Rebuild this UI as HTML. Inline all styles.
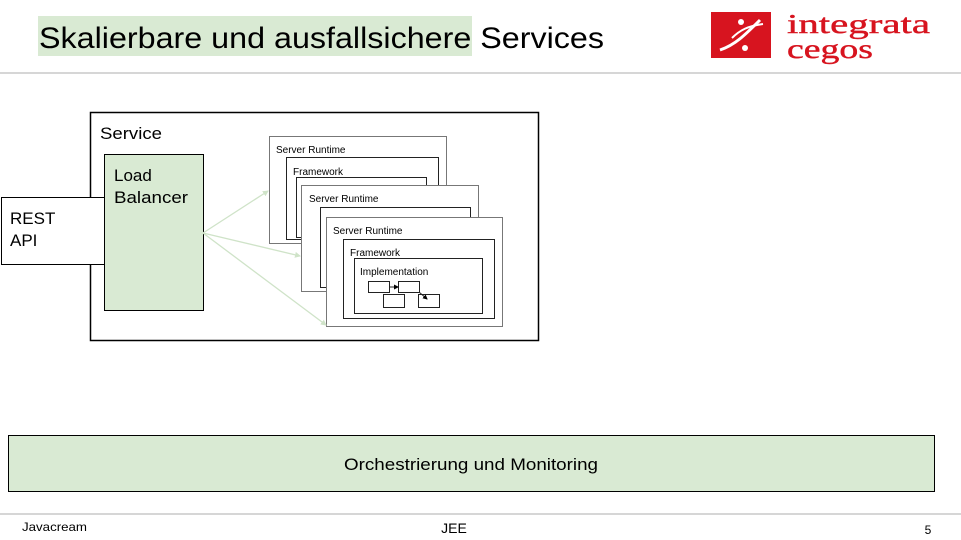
<!DOCTYPE html>
<html><head><meta charset="utf-8"><style>
html,body{margin:0;padding:0;background:#fff;}
svg{display:block;font-family:"Liberation Sans",Arial,sans-serif;}
</style></head><body>
<svg width="961" height="540" viewBox="0 0 961 540" xmlns="http://www.w3.org/2000/svg">
<defs>
<marker id="ag" markerWidth="6" markerHeight="6" refX="5" refY="3" orient="auto" markerUnits="userSpaceOnUse"><path d="M0,0 L6,3 L0,6 z" fill="#cfe3c8"/></marker>
<marker id="ab" markerWidth="5" markerHeight="5" refX="4" refY="2.5" orient="auto" markerUnits="userSpaceOnUse"><path d="M0,0 L5,2.5 L0,5 z" fill="#000"/></marker>
</defs>
<rect x="38" y="16" width="434" height="40" fill="#d9ead3"/>
<text x="39" y="48" font-size="30" fill="#000" textLength="565" lengthAdjust="spacingAndGlyphs">Skalierbare und ausfallsichere Services</text>
<line x1="0" y1="73" x2="961" y2="73" stroke="#c8c8c8" stroke-width="1.5"/>
<rect x="711" y="12" width="60" height="46" fill="#d7141f"/>
<path d="M720 50 C735 45 745 35 760 20" stroke="#fff" stroke-width="3" fill="none"/>
<path d="M732 38 C740 30 748 26 763 24" stroke="#fff" stroke-width="2" fill="none"/>
<circle cx="741" cy="22" r="3" fill="#fff"/><circle cx="745" cy="48" r="3" fill="#fff"/>
<text x="787" y="33" font-family="Liberation Serif,serif" font-size="27" fill="#d7141f" stroke="#d7141f" stroke-width="0.4" textLength="143" lengthAdjust="spacingAndGlyphs">integrata</text>
<text x="787" y="58" font-family="Liberation Serif,serif" font-size="27" fill="#d7141f" stroke="#d7141f" stroke-width="0.4" textLength="86" lengthAdjust="spacingAndGlyphs">cegos</text>
<rect x="90.5" y="112.5" width="448" height="228" fill="#fff" stroke="#000" stroke-width="1.5"/>
<text x="100" y="139" font-size="17" textLength="62" lengthAdjust="spacingAndGlyphs">Service</text>
<rect x="1.5" y="197.5" width="103" height="67" fill="#fff" stroke="#000"/>
<text x="10" y="224" font-size="17">REST</text>
<text x="10" y="246" font-size="17">API</text>
<rect x="104.5" y="154.5" width="99" height="156" fill="#d9ead3" stroke="#000"/>
<text x="114" y="181" font-size="17">Load</text>
<text x="114" y="203" font-size="17" textLength="74" lengthAdjust="spacingAndGlyphs">Balancer</text>
<g stroke="#777" fill="#fff" stroke-width="1">
<rect x="269.5" y="136.5" width="177" height="107"/>
</g>
<g stroke="#222" fill="none" stroke-width="1">
<rect x="286.5" y="157.5" width="152" height="82" fill="#fff"/>
<rect x="296.5" y="177.5" width="130" height="60" fill="none"/>
<rect x="301.5" y="185.5" width="177" height="106" fill="#fff" stroke="#777"/>
<rect x="320.5" y="207.5" width="150" height="80" fill="#fff"/>
<rect x="326.5" y="217.5" width="176" height="109" fill="#fff" stroke="#777"/>
<rect x="343.5" y="239.5" width="151" height="79" fill="#fff"/>
<rect x="354.5" y="258.5" width="128" height="55" fill="#fff"/>
<rect x="368.5" y="281.5" width="21" height="11"/>
<rect x="398.5" y="281.5" width="21" height="11"/>
<rect x="383.5" y="294.5" width="21" height="13"/>
<rect x="418.5" y="294.5" width="21" height="13"/>
<line x1="390" y1="287" x2="398" y2="287" marker-end="url(#ab)"/>
<line x1="419" y1="292" x2="427" y2="299" marker-end="url(#ab)"/>
</g>
<text x="276" y="153" font-size="10">Server Runtime</text>
<text x="293" y="175" font-size="10">Framework</text>
<text x="309" y="202" font-size="10">Server Runtime</text>
<text x="333" y="234" font-size="10">Server Runtime</text>
<text x="350" y="256" font-size="10">Framework</text>
<text x="360" y="275" font-size="10">Implementation</text>
<g stroke="#cfe3c8" stroke-width="1.3" fill="none">
<line x1="203" y1="233" x2="268" y2="191" marker-end="url(#ag)"/>
<line x1="203" y1="233" x2="300" y2="256" marker-end="url(#ag)"/>
<line x1="203" y1="233" x2="326" y2="325" marker-end="url(#ag)"/>
</g>
<rect x="8.5" y="435.5" width="926" height="56" fill="#d9ead3" stroke="#000"/>
<text x="344" y="470" font-size="17" textLength="254" lengthAdjust="spacingAndGlyphs">Orchestrierung und Monitoring</text>
<line x1="0" y1="514" x2="961" y2="514" stroke="#c8c8c8" stroke-width="1.5"/>
<text x="22" y="531" font-size="12" textLength="65" lengthAdjust="spacingAndGlyphs">Javacream</text>
<text x="454" y="533" font-size="14" text-anchor="middle">JEE</text>
<text x="928" y="534" font-size="12" text-anchor="middle">5</text>
</svg>
</body></html>
